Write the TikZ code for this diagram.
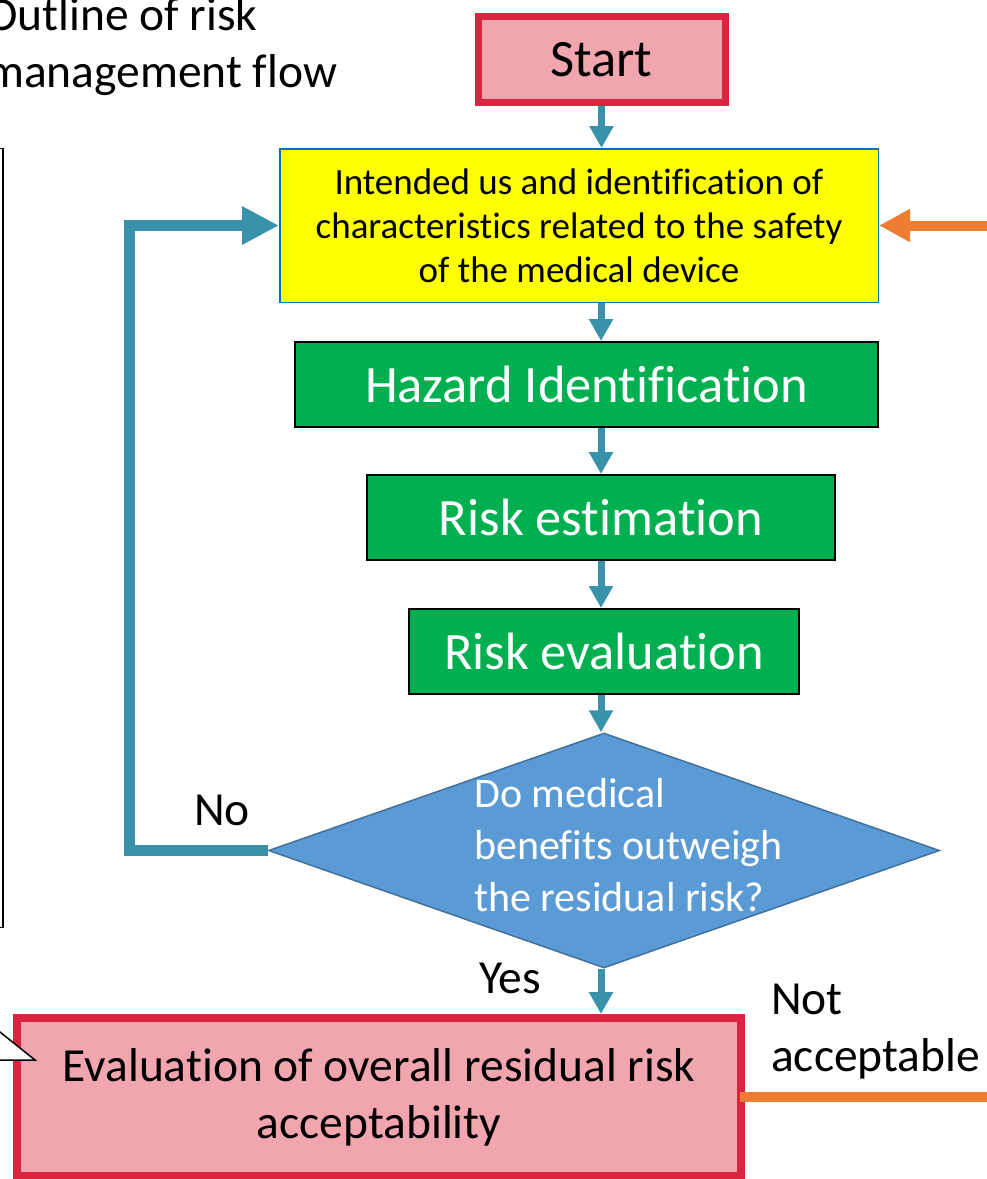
\documentclass[tikz,border=0pt]{standalone}
\usepackage{fontspec}
\setmainfont{Carlito}[Ligatures={NoCommon}]
\usetikzlibrary{arrows.meta,shapes.geometric}

\definecolor{boxpink}{RGB}{241,165,175}
\definecolor{boxred}{RGB}{219,36,64}
\definecolor{flowteal}{RGB}{55,146,170}
\definecolor{infoyellow}{RGB}{255,255,0}
\definecolor{infoblue}{RGB}{0,112,192}
\definecolor{stepgreen}{RGB}{0,176,80}
\definecolor{decfill}{RGB}{91,155,213}
\definecolor{decedge}{RGB}{65,113,156}
\definecolor{fborange}{RGB}{237,125,49}

\tikzset{
  bigfont/.style={font=\fontsize{52.5}{63}\selectfont},
  midfont/.style={font=\fontsize{47.5}{57}\selectfont},
  startbox/.style={draw=boxred, line width=7pt, fill=boxpink, inner sep=0pt,
    minimum width=247pt, minimum height=86pt, bigfont},
  infobox/.style={draw=infoblue, line width=1.5pt, fill=infoyellow, inner sep=0pt,
    minimum width=598.5pt, minimum height=153.5pt, align=center,
    font=\fontsize{37}{44}\selectfont},
  stepbox/.style={draw=black, line width=2pt, fill=stepgreen, text=white,
    inner sep=0pt, minimum height=85pt, bigfont},
  decision/.style={diamond, draw=decedge, line width=1.5pt, fill=decfill,
    inner sep=0pt, minimum width=671pt, minimum height=235pt},
  dectext/.style={text=white, align=left, inner sep=0pt,
    font=\fontsize{42}{52}\selectfont},
  endbox/.style={draw=boxred, line width=8pt, fill=boxpink, inner sep=0pt,
    minimum width=724pt, minimum height=158pt, align=center, midfont},
  label/.style={inner sep=0pt, midfont},
  flow/.style={draw=flowteal, line width=7pt,
    -{Triangle[length=22pt,width=23pt]}},
  loopback/.style={draw=flowteal, line width=11pt, line join=miter,
    -{Triangle[length=37pt,width=36pt]}},
  feedback/.style={draw=fborange, line width=10pt},
}

\begin{document}
\begin{tikzpicture}[x=1pt,y=-1pt]
  \useasboundingbox (0,0) rectangle (987,1179);
  \clip (0,0) rectangle (987,1179);

  % heading
  \node[label, align=left, anchor=west] (title) at (-14,47)
    {Outline of risk\\management flow};

  % side panel (right edge only inside the frame)
  \node[draw=black, line width=1.5pt, inner sep=0pt,
        minimum width=300pt, minimum height=779pt] (panel) at (-147,538) {};

  % flow column
  \coordinate (col) at (601,0);
  \node[startbox] (start) at (601.5,59.5) {Start};
  \node[infobox] (intended) at (579,225.5)
    {Intended us and identification of\\characteristics related to the safety\\of the medical device};
  \node[stepbox, minimum width=583pt] (hazard) at (586.5,384.5) {Hazard Identification};
  \node[stepbox, minimum width=468pt] (estim) at (601,517.5) {Risk estimation};
  \node[stepbox, minimum width=390pt] (evalrisk) at (604,651.5) {Risk evaluation};
  \node[decision] (decide) at (604,850.5) {};
  \node[dectext, anchor=west] (question) at (474,845)
    {Do medical\\benefits outweigh\\the residual risk?};
  \node[endbox] (overall) at (379,1097)
    {Evaluation of overall residual risk\\acceptability};

  % callout pointer from the side panel
  \draw[fill=white, line width=1.5pt, line join=miter]
    (-5,1028) -- (35,1060) -- (-5,1060);

  % labels
  \node[label] (no) at (222,810) {No};
  \node[label] (yes) at (510,978) {Yes};
  \node[label, align=left, anchor=west] (notacc) at (771,1032) {Not\\acceptable};

  % connectors
  \draw[flow] (start.south) -- (intended.north -| start.south);
  \draw[flow] (intended.south -| col) -- (hazard.north -| col);
  \draw[flow] (hazard.south -| col) -- (estim.north -| col);
  \draw[flow] (estim.south -| col) -- (evalrisk.north -| col);
  \draw[flow] (evalrisk.south -| col) -- (decide.north -| col);
  \draw[flow] (decide.south -| col) -- (overall.north -| col);

  \coordinate (loopx) at (129,0);
  \draw[loopback] (decide.west) -- (decide.west -| loopx) |- (intended.west);

  \coordinate (feedin) at (992,225.5);
  \coordinate (feedout) at (992,1097);
  \draw[feedback, -{Triangle[length=31pt,width=31pt]}] (feedin) -- (intended.east);
  \draw[feedback] ([xshift=-5pt]overall.east) -- (overall.east -| feedout);
\end{tikzpicture}
\end{document}
